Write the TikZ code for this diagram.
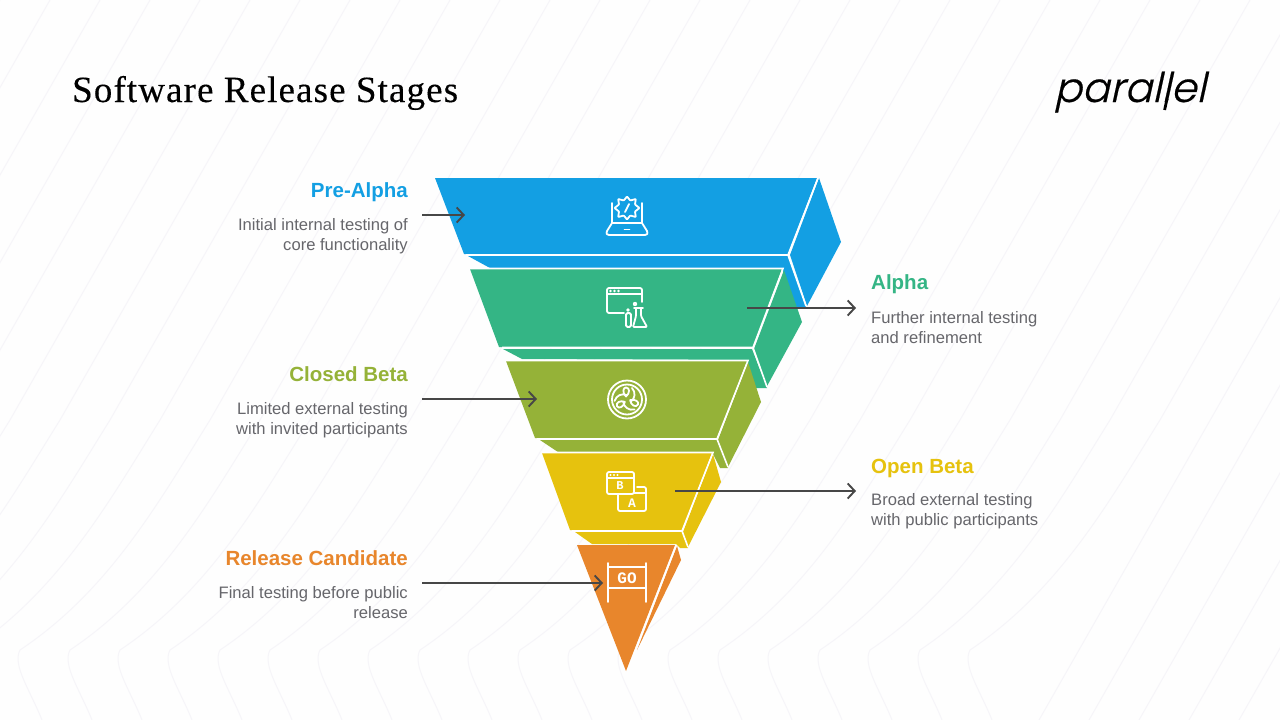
\documentclass[tikz,border=0pt]{standalone}
\usepackage{fontspec}
\setmainfont{Liberation Sans}
\newfontfamily\titlefont{Liberation Serif}[LetterSpace=3,FakeBold=0.25]
\newfontfamily\headfont{Liberation Sans Bold}
\newfontfamily\labelfont{Liberation Sans}
\newfontfamily\logofont{Poppins Light}[FakeSlant=0.22,FakeBold=0.5]
\newfontfamily\icofont{Liberation Mono Bold}
\usetikzlibrary{arrows.meta}
\definecolor{cblue}{HTML}{139FE3}
\definecolor{cgreen}{HTML}{34B585}
\definecolor{colive}{HTML}{95B238}
\definecolor{cyellow}{HTML}{E6C20E}
\definecolor{corange}{HTML}{E8862C}
\definecolor{tgrey}{HTML}{66666B}
\definecolor{bgline}{HTML}{F6F5F9}
\tikzset{
  x=1pt,y=-1pt,
  edge/.style={white,line width=1.6pt},
  ico/.style={draw=white,line width=1.8pt,line cap=round,line join=round,fill=none},
  conn/.style={draw=black!72,line width=1.8pt,-{Straight Barb[length=7pt,width=15pt,line width=1.9pt]}},
  head/.style={anchor=base east,inner sep=0pt,font=\headfont\fontsize{20.5}{23}\selectfont},
  body/.style={anchor=east,align=right,text=tgrey,font=\labelfont\fontsize{16.6}{20}\selectfont,inner sep=0pt},
}
\begin{document}
\begin{tikzpicture}
\useasboundingbox (0,0) rectangle (1280,720);
\fill[white!99.6!black] (0,0) rectangle (1280,720);
% background hatch
\begin{scope}
\clip (0,0) rectangle (1280,720);
\foreach \a in {-100,-50,...,1950}{
  \pgfmathsetmacro{\k}{\a-430}
  \pgfmathsetmacro{\tx}{\a-240}
  \ifdim\k pt<1000pt
    \draw[bgline,line width=1pt] (\a,0) -- (\tx,420) .. controls (\tx-50,500) and (\k+90,590) .. (\k,650) .. controls (\k-8,665) and (\k+10,690) .. (\k+22,720);
  \else
    \draw[bgline,line width=1pt] (\a,0) -- ++(-411,720);
  \fi
}
\end{scope}

% blue
\fill[cblue] (468,256) -- (788,256) -- (806,307) -- (795,307) -- (782,268) -- (490,268) -- cycle;
\fill[cblue] (819,178) -- (841,242) -- (807,306) -- (790,255) -- cycle;
\path[fill=cblue] (435,178) -- (817,178) -- (788,254) -- (464,254) -- cycle;
\draw[edge] (818,178) -- (788,255) -- (466,255) (788,255) -- (806,306);

% green
\fill[cgreen] (503,349) -- (752,349) -- (767,388) -- (756,388) -- (745,360) -- (522,359) -- cycle;
\fill[cgreen] (784,270) -- (802,322) -- (766,388) -- (754,349) -- cycle;
\path[fill=cgreen] (470,269) -- (782,269) -- (753,347) -- (499,347) -- cycle;
\draw[edge] (470,268.5) -- (783,268.5) -- (753,347.5) -- (502,347.5) (753,347.5) -- (767,387);

% olive
\fill[colive] (540,440) -- (717,440) -- (728,468) -- (720,468) -- (712,452) -- (558,452) -- cycle;
\fill[colive] (748,362) -- (761,402) -- (728,467) -- (718,440) -- cycle;
\path[fill=colive] (506,361) -- (747,361) -- (717,438) -- (535,438) -- cycle;
\draw[edge] (506,360.5) -- (748,360.5) -- (717,439) -- (537,439) (717,439) -- (728,467);

% yellow
\fill[cyellow] (575,532) -- (682,532) -- (688,548) -- (680,548) -- (676,544) -- (592,544) -- cycle;
\fill[cyellow] (713,454) -- (721,482) -- (688,547) -- (683,532) -- cycle;
\path[fill=cyellow] (542,453) -- (712,453) -- (682,530) -- (570,530) -- cycle;
\draw[edge] (542,452.5) -- (713,452.5) -- (682,531) -- (572,531) (682,531) -- (688,547);

% orange
\fill[corange] (677,546) -- (681,560) -- (637,650) -- cycle;
\path[fill=corange] (577,545) -- (675,545) -- (626,671) -- cycle;
\draw[white,line width=1.4pt] (676,546) -- (634,654);

% icon 1: laptop and gear
\begin{scope}[shift={(627,216)}]
\draw[ico] (-15,-13) -- (-15,7) -- (15,7) -- (15,-13);
\draw[ico] (-15,7) -- (-20,15) .. controls (-21,18) and (-20,19) .. (-18,19) -- (18,19) .. controls (20,19) and (21,18) .. (20,15) -- (15,7);
\draw[ico] (-2.5,13.5) -- (2.5,13.5);
\draw[ico,fill=cblue,rounded corners=0.6pt] (0,-19.5) -- (3.2,-15.5) -- (8.8,-17) -- (8,-11.5) -- (12.5,-8) -- (8,-4.5) -- (8.8,1) -- (3.2,-0.5) -- (0,3.5) -- (-3.2,-0.5) -- (-8.8,1) -- (-8,-4.5) -- (-12.5,-8) -- (-8,-11.5) -- (-8.8,-17) -- (-3.2,-15.5) -- cycle;
\draw[ico] (2,-12) -- (-2,-4);
\end{scope}

% icon 2: window and flask
\begin{scope}[shift={(627,308)}]
\draw[ico,rounded corners=2pt] (-3,5) -- (-20,5) -- (-20,-20) -- (15,-20) -- (15,-6);
\draw[ico] (-20,-14) -- (15,-14);
\foreach \px in {-16.5,-12.5,-8.5}{\fill[white] (\px,-17) circle (1.3pt);}
\draw[ico,rounded corners=1.5pt] (-1,5) rectangle (4,19);
\draw[ico] (7,0) -- (16,0);
\draw[ico,rounded corners=1pt] (9,0) -- (9,8) -- (6,19) -- (20,19) -- (14,8) -- (14,0);
\fill[white] (8,-4) circle (2.2pt);
\fill[white] (1,2) circle (1.8pt);
\end{scope}

% icon 3: circular symbol
\begin{scope}[shift={(627,399.5)}]
\draw[ico] (0,0) circle (19);
\draw[ico] (0,0) circle (15);
\foreach \r in {0,120,240}{
  \begin{scope}[rotate=\r]
  \draw[ico] (-1,-3) .. controls (-5,-7) and (-4,-12) .. (-1,-12) .. controls (3,-12) and (3,-6) .. (-1,-3) -- cycle;
  \draw[ico] (5,-11.5) .. controls (9,-7) and (8,-1) .. (4,2);
  \end{scope}
}
\end{scope}

% icon 4: A/B windows
\begin{scope}[shift={(627,491)}]
\draw[ico,rounded corners=2pt] (-20,-19) rectangle (7,3);
\draw[ico] (-20,-13) -- (7,-13);
\foreach \px in {-16.5,-13,-9.5}{\fill[white] (\px,-16) circle (1.1pt);}
\draw[ico,rounded corners=2pt] (-9,3.5) -- (-9,20) -- (19,20) -- (19,-4) -- (10,-4);
\draw[ico] (7,2) -- (19,2);
\node[inner sep=0pt,text=white,font=\icofont\fontsize{12}{12}\selectfont] (icb) at (-7,-5) {B};
\node[inner sep=0pt,text=white,font=\icofont\fontsize{13}{13}\selectfont] (ica) at (5,12) {A};
\end{scope}

% icon 5: GO sign
\begin{scope}[shift={(627,583)}]
\draw[ico] (-19,-20) -- (-19,19) (19,-20) -- (19,19) (-19,-16) -- (19,-16) (-19,5) -- (19,5);
\node[inner sep=0pt,text=white,font=\icofont\fontsize{16}{16}\selectfont] (icgo) at (0,-5) {GO};
\end{scope}

% title and logo
\node[anchor=base west,inner sep=0pt] (title) at (72,102) {\titlefont\fontsize{37}{40}\selectfont Software Release Stages};
\node[anchor=base,inner sep=0pt] (logo) at (1130,102) {\logofont\fontsize{41}{44}\selectfont parallel};
\coordinate (lgA) at (1167,99);
\coordinate (lgB) at (1164.6,110);
\draw[black,line width=2.8pt] (lgA) -- (lgB);

% labels
\node[head,text=cblue] (h1) at (408,197) {Pre-Alpha};
\node[body] (b1) at (408,236) {Initial internal testing of\\core functionality};
\node[head,text=cgreen,anchor=base west] (h2) at (871,289) {Alpha};
\node[body,anchor=west,align=left] (b2) at (871,327.5) {Further internal testing\\and refinement};
\node[head,text=colive] (h3) at (408,381) {Closed Beta};
\node[body] (b3) at (408,420) {Limited external testing\\with invited participants};
\node[head,text=cyellow,anchor=base west] (h4) at (871,473) {Open Beta};
\node[body,anchor=west,align=left] (b4) at (871,511.5) {Broad external testing\\with public participants};
\node[head,text=corange] (h5) at (408,565) {Release Candidate};
\node[body] (b5) at (408,603) {Final testing before public\\release};

% connectors
\coordinate (a1s) at (422,215); \coordinate (a1e) at (465,215);
\coordinate (a2s) at (747,308); \coordinate (a2e) at (856,308);
\coordinate (a3s) at (422,399); \coordinate (a3e) at (537,399);
\coordinate (a4s) at (675,491); \coordinate (a4e) at (856,491);
\coordinate (a5s) at (422,583); \coordinate (a5e) at (603,583);
\draw[conn] (a1s) -- (a1e);
\draw[conn] (a2s) -- (a2e);
\draw[conn] (a3s) -- (a3e);
\draw[conn] (a4s) -- (a4e);
\draw[conn] (a5s) -- (a5e);
\end{tikzpicture}
\end{document}
